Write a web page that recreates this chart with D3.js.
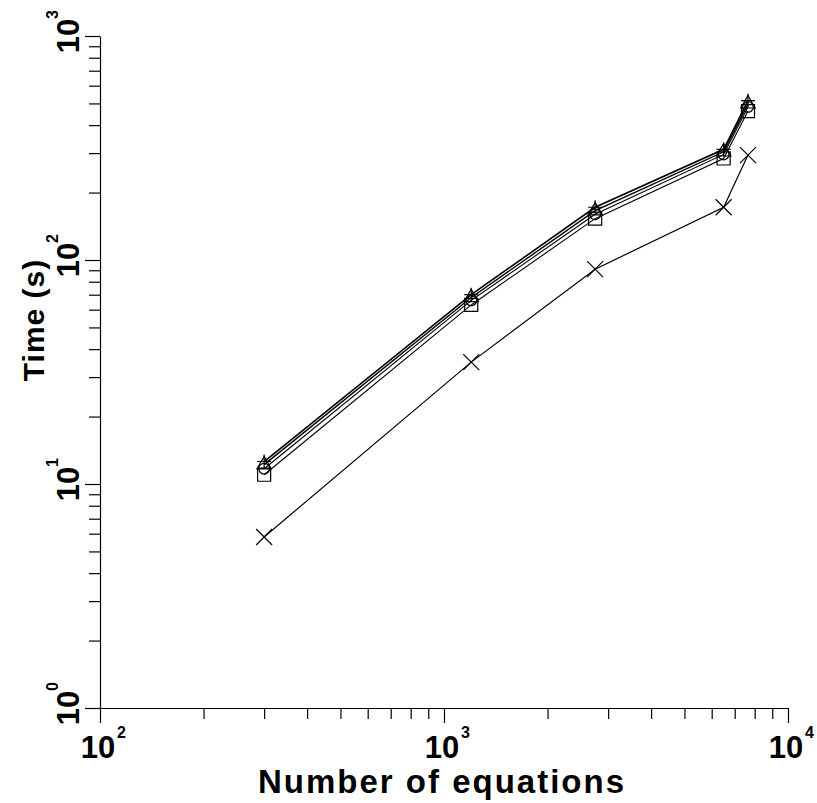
<!DOCTYPE html>
<html>
<head>
<meta charset="utf-8">
<script src="https://cdn.jsdelivr.net/npm/d3@7"></script>
<style>
  body { margin: 0; background: #fff; }
  text { font-family: "Liberation Sans", Arial, sans-serif; fill: #000; }
</style>
</head>
<body>
<script>
// Number of equations vs solve time, five runs
const equations = [300, 1200, 2750, 6500, 7650];
const timePlus = [12.6, 70, 172, 312, 515];
const timeTriangle = [12.2, 68, 166, 304, 498];
const timeCircle = [11.7, 66, 160, 296, 482];
const timeSquare = [11.0, 63, 153, 284, 462];
const timeCross = [5.8, 35, 91, 172, 294];

const xDecades = [100, 1000, 10000];
const yDecades = [1, 10, 100, 1000];

const series = [
  { name: "plus", values: timePlus, width: 1.6 },
  { name: "triangle", values: timeTriangle, width: 1.4 },
  { name: "circle", values: timeCircle, width: 1.1 },
  { name: "square", values: timeSquare, width: 1.1 },
  { name: "cross", values: timeCross, width: 1.2 }
];

const width = 817, height = 803;

const svg = d3.select("body").append("svg")
  .attr("width", width)
  .attr("height", height);

const x = d3.scaleLog().domain([100, 10000]).range([100, 788]);
const y = d3.scaleLog().domain([1, 1000]).range([708, 36]);

// all log ticks 1..9 per decade
function logTicks(lo, hi) {
  const out = [];
  for (let p = lo; p < hi; p *= 10) {
    for (let k = 1; k < 10; k++) out.push(p * k);
  }
  out.push(hi);
  return out;
}
const xMinor = logTicks(100, 10000).filter(v => !xDecades.includes(v));
const yMinor = logTicks(1, 1000).filter(v => !yDecades.includes(v));

// x axis: minor then major ticks
const gx = svg.append("g").attr("transform", `translate(0,${y.range()[0]})`);
gx.append("g")
  .call(d3.axisBottom(x).tickValues(xMinor).tickSize(11).tickFormat(""))
  .call(g => g.select(".domain").remove());
gx.append("g")
  .call(d3.axisBottom(x).tickValues(xDecades).tickSize(15).tickSizeOuter(0).tickFormat(""));

// y axis
const gy = svg.append("g").attr("transform", `translate(${x.range()[0]},0)`);
gy.append("g")
  .call(d3.axisLeft(y).tickValues(yMinor).tickSize(11).tickFormat(""))
  .call(g => g.select(".domain").remove());
gy.append("g")
  .call(d3.axisLeft(y).tickValues(yDecades).tickSize(15).tickSizeOuter(0).tickFormat(""));

svg.selectAll(".tick line, .domain").attr("stroke", "#000").attr("stroke-width", 1.2);

// tick labels as 10 with superscript exponent
xDecades.forEach(v => {
  const px = x(v);
  svg.append("text")
    .attr("x", px - 2).attr("y", 758)
    .attr("text-anchor", "middle")
    .attr("font-size", 31)
    .attr("font-weight", "bold")
    .text("10");
  svg.append("text")
    .attr("x", px + 17).attr("y", 738)
    .attr("font-size", 16)
    .attr("font-weight", "bold")
    .text(Math.round(Math.log10(v)));
});

yDecades.forEach(v => {
  const g = svg.append("g")
    .attr("transform", `translate(79,${y(v)}) rotate(-90)`);
  g.append("text")
    .attr("x", 0).attr("y", 0)
    .attr("text-anchor", "middle")
    .attr("font-size", 31)
    .attr("font-weight", "bold")
    .text("10");
  g.append("text")
    .attr("x", 17).attr("y", -21)
    .attr("font-size", 16)
    .attr("font-weight", "bold")
    .text(Math.round(Math.log10(v)));
});

// axis titles
svg.append("text")
  .attr("x", 442).attr("y", 793)
  .attr("text-anchor", "middle")
  .attr("font-size", 33)
  .attr("font-weight", "bold")
  .attr("letter-spacing", 2)
  .text("Number of equations");

svg.append("text")
  .attr("transform", "translate(44,320) rotate(-90)")
  .attr("text-anchor", "middle")
  .attr("font-size", 30)
  .attr("font-weight", "bold")
  .attr("letter-spacing", 1)
  .text("Time (s)");

// lines
const line = d3.line()
  .x((d, i) => x(equations[i]))
  .y(d => y(d));

svg.append("g")
  .selectAll("path")
  .data(series)
  .join("path")
  .attr("fill", "none")
  .attr("stroke", "#000")
  .attr("stroke-width", d => d.width)
  .attr("d", d => line(d.values));

// markers
function markerPath(name) {
  if (name === "circle") return d3.symbol(d3.symbolCircle, 90)();
  if (name === "square") return d3.symbol(d3.symbolSquare, 170)();
  if (name === "triangle") return d3.symbol(d3.symbolTriangle, 90)();
  if (name === "plus") return "M-7,0H7M0,-7V7";
  return "M-8,-8L8,8M-8,8L8,-8";
}

series.forEach(s => {
  svg.append("g")
    .selectAll("path")
    .data(s.values)
    .join("path")
    .attr("transform", (d, i) => `translate(${x(equations[i])},${y(d)})`)
    .attr("d", markerPath(s.name))
    .attr("fill", "none")
    .attr("stroke", "#000")
    .attr("stroke-width", 1.2);
});
</script>
</body>
</html>
